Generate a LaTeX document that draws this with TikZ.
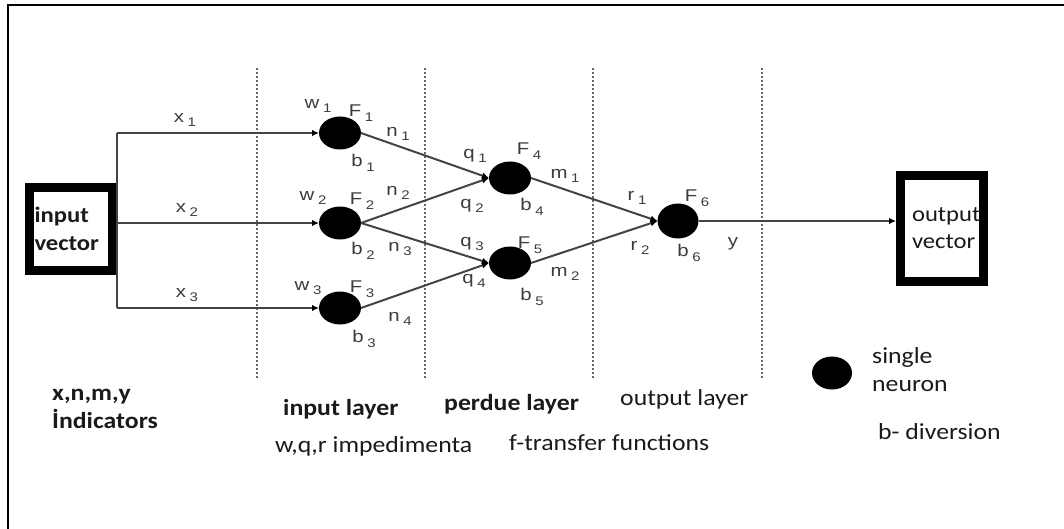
\documentclass[tikz,border=0pt]{standalone}
\usepackage{graphicx}
\usepackage{fontspec}
\setmainfont{Carlito}
\newfontfamily\arialf{Liberation Sans}
\usetikzlibrary{shapes.geometric,arrows.meta}
\definecolor{lg}{HTML}{444444}
\definecolor{lt}{HTML}{3C3C3C}
\definecolor{tx}{HTML}{1A1A1A}
\newcommand{\lb}[2]{\scalebox{1.2}[1]{\arialf\fontsize{17}{19}\selectfont #1\hspace{3pt}\raisebox{-4.5pt}{\fontsize{12.5}{14}\selectfont #2}}}
\newcommand{\sx}[1]{\scalebox{1.12}[1]{#1}}
\begin{document}
\begin{tikzpicture}[x=1pt,y=-1pt,
  neuron/.style={ellipse, fill=black, minimum width=42pt, minimum height=33pt, inner sep=0pt, outer sep=0pt},
  conn/.style={draw=lg, line width=2pt},
  arr/.style={conn, -{Latex[length=7pt,width=6.5pt,color=black]}},
  lab/.style={text=lt, inner sep=0pt},
  vbox/.style={draw=black, line width=9pt, fill=white, inner sep=0pt},
  dotl/.style={draw=black!60, line width=2pt, dash pattern=on 2pt off 2pt},
  btxt/.style={text=tx, font=\fontsize{23}{28}\selectfont, inner sep=0pt, align=left, anchor=base west},
  bbold/.style={btxt, font=\bfseries\fontsize{23}{28}\selectfont}
]
\useasboundingbox (0,0) rectangle (1064,529);
% frame
\draw[line width=2.5pt, line cap=rect] (8,529) -- (8,5) -- (1064,5);
% dotted layer separators
\foreach \xx in {257,425,593,762} \draw[dotl] (\xx,68) -- (\xx,378);
% boxes
\node[vbox, minimum width=83pt, minimum height=83pt, text width=73pt, align=left,
      font=\bfseries\fontsize{22}{28}\selectfont, text=tx] (inbox) at (71,229) {\sx{input}\\\sx{vector}};
\node[vbox, minimum width=83pt, minimum height=106pt, text width=60pt, align=left,
      font=\fontsize{22}{27}\selectfont, text=tx] (outbox) at (942,228.5) {\sx{output}\\\sx{vector}};
% neurons
\node[neuron] (n1) at (340,133) {};
\node[neuron] (n2) at (340,223) {};
\node[neuron] (n3) at (340,308) {};
\node[neuron] (n4) at (510,178) {};
\node[neuron] (n5) at (510,263) {};
\node[neuron, minimum width=41pt, minimum height=35pt] (n6) at (678,221) {};
\node[neuron, minimum width=40pt, minimum height=33pt] (leg) at (832,373) {};
% connectors
\draw[conn] (n1.west -| inbox.east) -- (n3.west -| inbox.east);
\draw[arr] (n1.west -| inbox.east) -- (n1.west);
\draw[arr] (n2.west -| inbox.east) -- (n2.west);
\draw[arr] (n3.west -| inbox.east) -- (n3.west);
\draw[arr] (n1.east) -- (n4.west);
\draw[arr] (n2.east) -- (n4.west);
\draw[arr] (n2.east) -- (n5.west);
\draw[arr] (n3.east) -- (n5.west);
\draw[arr] (n4.east) -- (n6.west);
\draw[arr] (n5.east) -- (n6.west);
\draw[arr] (n6.east) -- (n6.east -| outbox.west);
% labels
\node[lab] (lx1) at (185,120) {\lb{x}{1}};
\node[lab] (lx2) at (187,210) {\lb{x}{2}};
\node[lab] (lx3) at (187,295) {\lb{x}{3}};
\node[lab] (lw1) at (318,106) {\lb{w}{1}};
\node[lab] (lw2) at (313,198) {\lb{w}{2}};
\node[lab] (lw3) at (308,288) {\lb{w}{3}};
\node[lab] (lf1) at (361,113) {\lb{F}{1}};
\node[lab] (lf2) at (362,201) {\lb{F}{2}};
\node[lab] (lf3) at (362,289) {\lb{F}{3}};
\node[lab] (lb1) at (363,163) {\lb{b}{1}};
\node[lab] (lb2) at (363,251) {\lb{b}{2}};
\node[lab] (lb3) at (364,339) {\lb{b}{3}};
\node[lab] (ln1) at (398,134) {\lb{n}{1}};
\node[lab] (ln2) at (398,193) {\lb{n}{2}};
\node[lab] (ln3) at (400,249) {\lb{n}{3}};
\node[lab] (ln4) at (400,319) {\lb{n}{4}};
\node[lab] (lq1) at (475,156) {\lb{q}{1}};
\node[lab] (lq2) at (472,206) {\lb{q}{2}};
\node[lab] (lq3) at (472,244) {\lb{q}{3}};
\node[lab] (lq4) at (474,281) {\lb{q}{4}};
\node[lab] (lf4) at (529,151) {\lb{F}{4}};
\node[lab] (lf5) at (530,245) {\lb{F}{5}};
\node[lab] (lb4) at (532,207) {\lb{b}{4}};
\node[lab] (lb5) at (532,297) {\lb{b}{5}};
\node[lab] (lm1) at (565,176) {\lb{m}{1}};
\node[lab] (lm2) at (565,274) {\lb{m}{2}};
\node[lab] (lr1) at (637,198) {\lb{r}{1}};
\node[lab] (lr2) at (640,248) {\lb{r}{2}};
\node[lab] (lf6) at (697,198) {\lb{F}{6}};
\node[lab] (lb6) at (689,253) {\lb{b}{6}};
\node[lab] (ly) at (733,244) {\scalebox{1.2}[1]{\arialf\fontsize{17}{19}\selectfont y}};
% bottom texts
\node[bbold] (tind) at (52,428) {\sx{x,n,m,y}\\\sx{İndicators}};
\node[bbold] (tinl) at (283,415) {\sx{input layer}};
\node[bbold] (tper) at (444,410) {\sx{perdue layer}};
\node[btxt] (timp) at (275,452) {\sx{w,q,r impedimenta}};
\node[btxt] (tout) at (620,405) {\sx{output layer}};
\node[btxt] (ttra) at (509,450) {\sx{f-transfer functions}};
\node[btxt] (tsin) at (872,391) {\sx{single}\\\sx{neuron}};
\node[btxt] (tdiv) at (878,439) {\sx{b- diversion}};
\end{tikzpicture}
\end{document}
